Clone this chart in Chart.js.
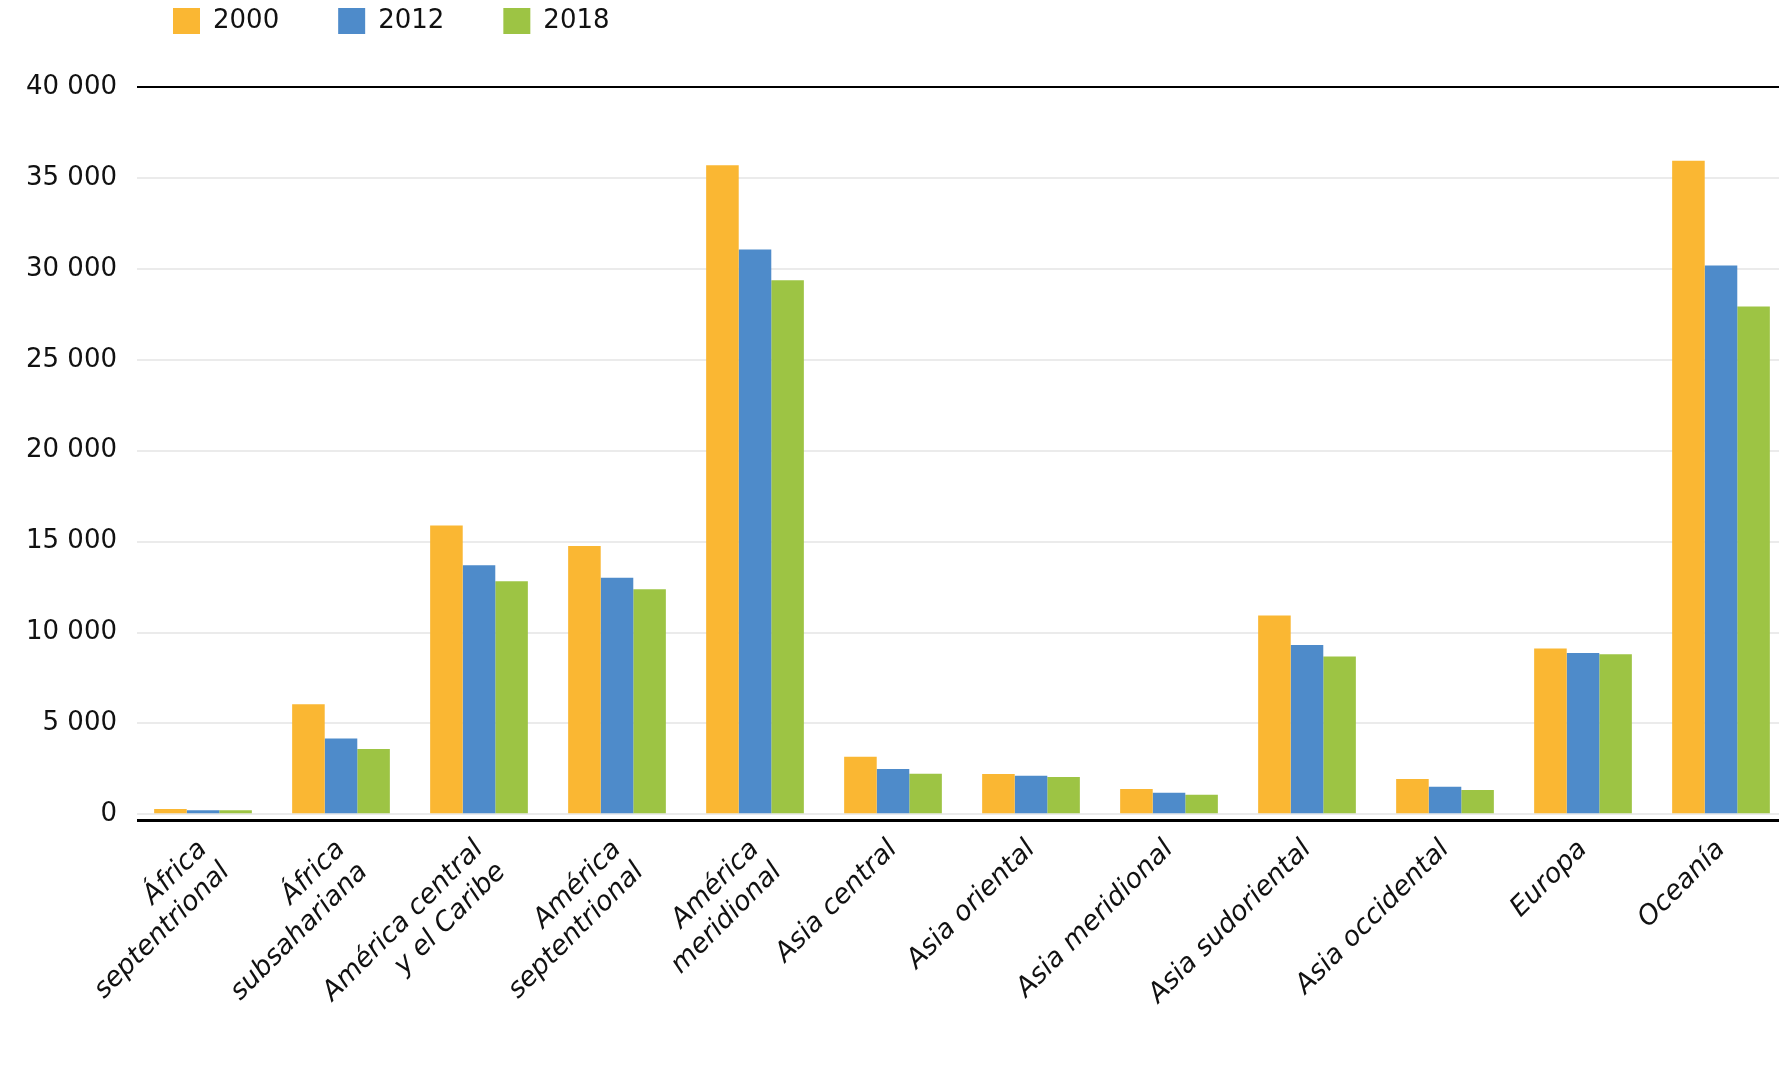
<!DOCTYPE html>
<html>
<head>
<meta charset="utf-8">
<script src="https://cdn.jsdelivr.net/npm/chart.js@4.4.1/dist/chart.umd.min.js"></script>
<style>
  html, body { margin: 0; padding: 0; background: #ffffff; }
  #wrap { width: 1787px; height: 1084px; position: relative; }
</style>
</head>
<body>
<div id="wrap"><canvas id="c" width="1787" height="1084"></canvas></div>
<script>
const categories = [
  ["África", "septentrional"],
  ["África", "subsahariana"],
  ["América central", "y el Caribe"],
  ["América", "septentrional"],
  ["América", "meridional"],
  "Asia central",
  "Asia oriental",
  "Asia meridional",
  "Asia sudoriental",
  "Asia occidental",
  "Europa",
  "Oceanía"
];
const seriesNames = ["2000", "2012", "2018"];
const values2000 = [290, 6050, 15890, 14760, 35700, 3170, 2215, 1390, 10940, 1940, 9120, 35950];
const values2012 = [230, 4170, 13700, 13010, 31060, 2490, 2120, 1190, 9310, 1520, 8870, 30180];
const values2018 = [230, 3600, 12820, 12380, 29370, 2230, 2050, 1080, 8680, 1340, 8810, 27930];
const yTicks = [0, 5000, 10000, 15000, 20000, 25000, 30000, 35000, 40000];
const yTickLabels = ["0", "5 000", "10 000", "15 000", "20 000", "25 000", "30 000", "35 000", "40 000"];
const colors = ["#FAB733", "#4E8BCA", "#9DC444"];

const Y_MIN = -310;
const LEG_PAD = 59;

const layoutFix = {
  id: 'layoutFix',
  beforeLayout(chart) {
    const lg = chart.legend;
    if (lg && !lg._wrappedFit) {
      const orig = lg.fit.bind(lg);
      lg.fit = function () { orig(); this.height = 87; };
      lg._wrappedFit = true;
    }
  },
  afterLayout(chart) {
    const lg = chart.legend;
    if (lg) {
      lg.left = 173 - LEG_PAD;
      lg.top = 8 - LEG_PAD;
    }
    // category band of the bars is slightly wider than the gridded area
    const x = chart.scales.x;
    x.left = 134;
    x.right = 1790;
    x.width = x.right - x.left;
    x.configure();
  }
};

new Chart(document.getElementById('c'), {
  type: 'bar',
  data: {
    labels: categories,
    datasets: [
      { label: seriesNames[0], data: values2000, backgroundColor: colors[0] },
      { label: seriesNames[1], data: values2012, backgroundColor: colors[1] },
      { label: seriesNames[2], data: values2018, backgroundColor: colors[2] }
    ]
  },
  options: {
    responsive: false,
    animation: false,
    devicePixelRatio: 1,
    layout: { padding: { left: 0, right: 8, top: 0, bottom: 0 } },
    datasets: { bar: { categoryPercentage: 0.708, barPercentage: 1.0, borderWidth: 0 } },
    plugins: {
      tooltip: { enabled: false },
      legend: {
        display: true,
        position: 'top',
        align: 'start',
        labels: {
          boxWidth: 27,
          boxHeight: 26,
          padding: LEG_PAD,
          color: '#111',
          font: { family: 'DejaVu Sans', size: 26 }
        }
      }
    },
    scales: {
      x: {
        grid: { display: false, drawTicks: false },
        border: { display: false },
        ticks: {
          autoSkip: false,
          maxRotation: 45,
          minRotation: 45,
          padding: 14,
          color: '#111',
          font: { family: 'DejaVu Sans', size: 27, style: 'italic', lineHeight: 1.18 }
        },
        afterFit(scale) { scale.height = 1084 - 820; }
      },
      y: {
        min: Y_MIN,
        max: 40000,
        z: 1,
        afterBuildTicks(scale) { scale.ticks = [Y_MIN].concat(yTicks).map(v => ({ value: v })); },
        grid: {
          drawTicks: false,
          color: ctx => {
            const v = ctx.tick ? ctx.tick.value : null;
            return (v === 40000 || v === Y_MIN) ? '#000' : '#ebebeb';
          },
          lineWidth: ctx => {
            const v = ctx.tick ? ctx.tick.value : null;
            return v === Y_MIN ? 3 : 2;
          }
        },
        border: { display: false },
        ticks: {
          padding: 20,
          color: '#111',
          font: { family: 'DejaVu Sans', size: 26 },
          callback: (v) => { const i = yTicks.indexOf(v); return i >= 0 ? yTickLabels[i] : ''; }
        },
        afterFit(scale) { scale.width = 137; }
      }
    }
  },
  plugins: [layoutFix]
});
</script>
</body>
</html>
